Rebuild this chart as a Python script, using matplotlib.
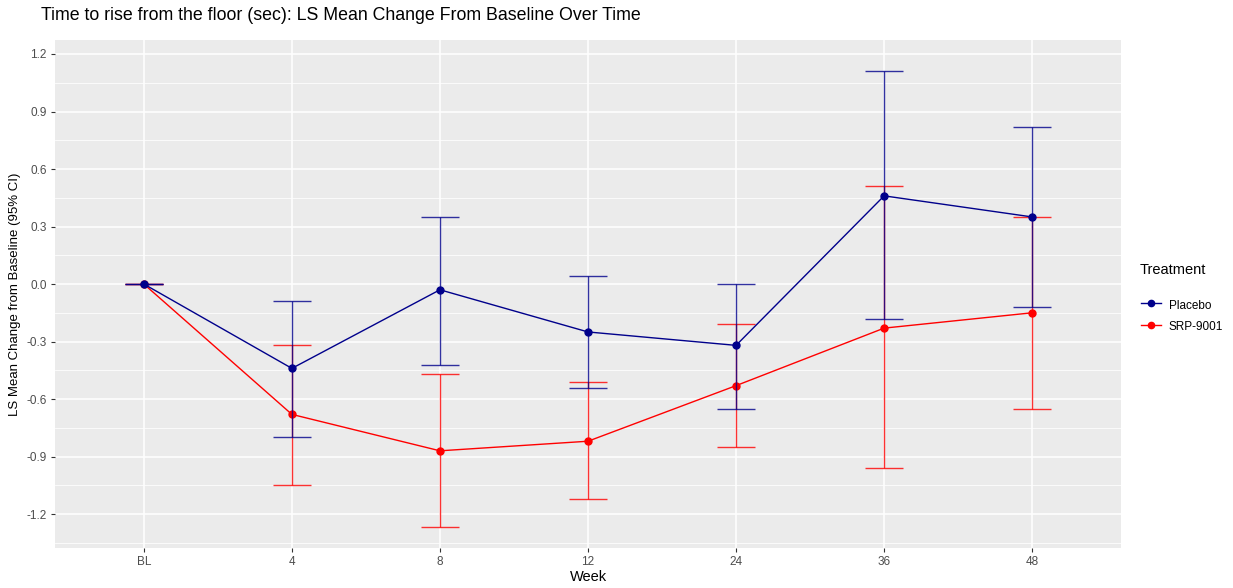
import matplotlib
matplotlib.use("Agg")
import matplotlib.pyplot as plt
from matplotlib.lines import Line2D
import numpy as np

plt.rcParams['font.family'] = ['Liberation Sans', 'DejaVu Sans']

weeks = ["BL", "4", "8", "12", "24", "36", "48"]

placebo_mean = [0.00, -0.44, -0.03, -0.25, -0.32, 0.46, 0.35]
placebo_lower = [0.00, -0.80, -0.42, -0.54, -0.65, -0.18, -0.12]
placebo_upper = [0.00, -0.09, 0.35, 0.04, 0.00, 1.11, 0.82]

srp_mean = [0.00, -0.68, -0.87, -0.82, -0.53, -0.23, -0.15]
srp_lower = [0.00, -1.05, -1.27, -1.12, -0.85, -0.96, -0.65]
srp_upper = [0.00, -0.32, -0.47, -0.51, -0.21, 0.51, 0.35]

yticks = [-1.2, -0.9, -0.6, -0.3, 0.0, 0.3, 0.6, 0.9, 1.2]

series = [
    ("Placebo", placebo_mean, placebo_lower, placebo_upper, "#00008B"),
    ("SRP-9001", srp_mean, srp_lower, srp_upper, "#FF0000"),
]

fig = plt.figure(figsize=(12.33, 5.88), dpi=100)
ax = fig.add_axes([55 / 1233, 40 / 588, (1121 - 55) / 1233, (548 - 40) / 588])

ax.set_facecolor("#EBEBEB")
for s in ax.spines.values():
    s.set_visible(False)

x = np.arange(len(weeks))
ax.set_xlim(-0.6, len(weeks) - 0.4)
ax.set_ylim(-1.377, 1.273)

# white grid, ggplot style
ax.set_yticks(yticks)
ax.set_yticks([v + 0.15 for v in yticks[:-1]] + [-1.35], minor=True)
ax.set_xticks(x)
ax.set_xticklabels(weeks)
ax.set_yticklabels([f"{v:.1f}" for v in yticks])
ax.grid(which="major", color="white", lw=1.1, zorder=0)
ax.grid(which="minor", axis="y", color="white", lw=0.55, zorder=0)
ax.set_axisbelow(True)
ax.tick_params(axis="both", which="major", length=3, width=0.8, color="#333333",
               labelcolor="#4D4D4D", labelsize=8.5, pad=3)
ax.tick_params(axis="both", which="minor", length=0)

handles = []
for z, (name, m, lo, hi, c) in zip([5, 3], series):
    m = np.array(m)
    ax.errorbar(x, m, yerr=[m - np.array(lo), np.array(hi) - m], fmt="none",
                ecolor=c, elinewidth=1.0, capsize=14, capthick=1.0, alpha=0.8, zorder=z)
    ax.plot(x, m, color=c, lw=1.0, marker="o", ms=5, zorder=z + 1)
    handles.append(Line2D([0], [0], color=c, lw=1.0, marker="o", ms=4.5, label=name))

ax.set_xlabel("Week", fontsize=10.5, color="black", labelpad=1)
ax.set_ylabel("LS Mean Change from Baseline (95% CI)", fontsize=9.5, color="black", labelpad=4)

fig.text(41 / 1233, 1 - 16 / 588, "Time to rise from the floor (sec): LS Mean Change From Baseline Over Time",
         fontsize=12.8, va="center", ha="left", color="black")

# legend: title placed separately from the keys
fig.text(1140 / 1233, 1 - 270 / 588, "Treatment", fontsize=10.5, va="center", ha="left")
leg = fig.legend(handles=handles, loc="upper left",
                 bbox_to_anchor=(1139 / 1233, 1 - 295 / 588), frameon=False,
                 fontsize=8.5, handlelength=1.7, handleheight=1.6, handletextpad=0.6,
                 labelspacing=0.55, borderaxespad=0, borderpad=0.2)

fig.savefig("out.png", dpi=100)
